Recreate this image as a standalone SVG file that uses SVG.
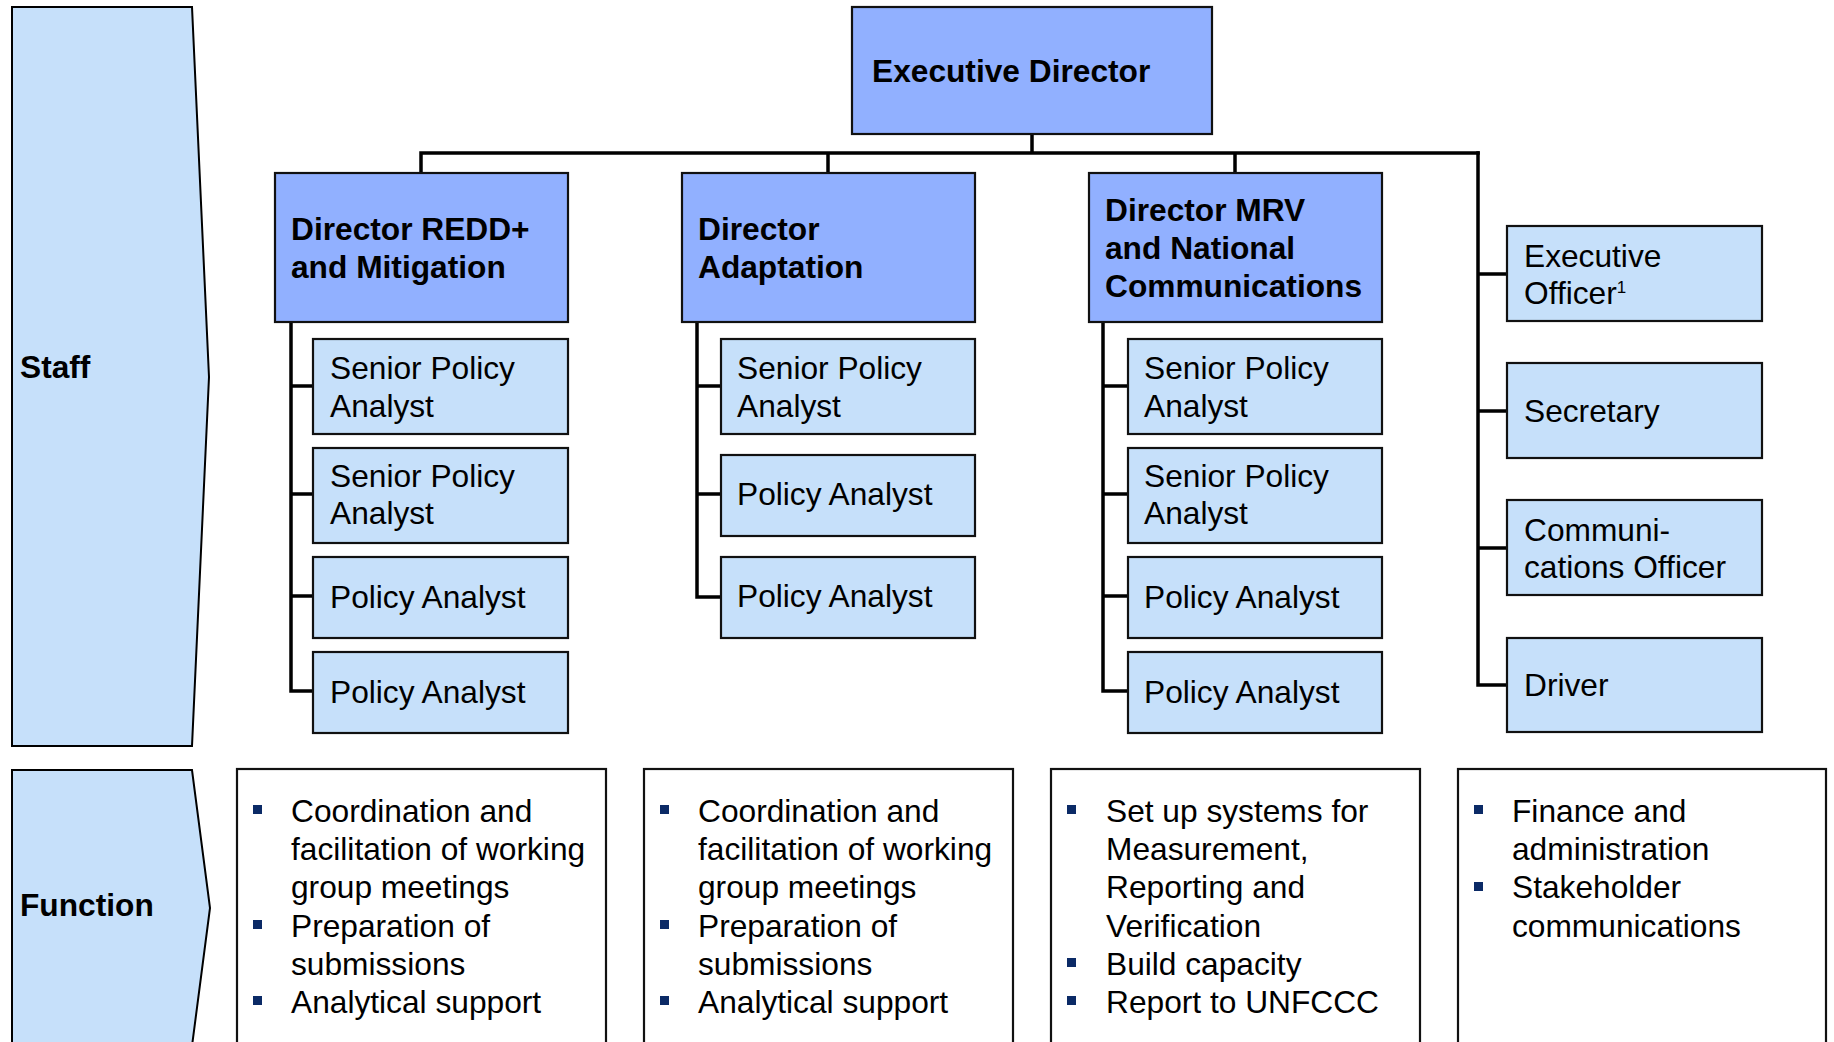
<svg xmlns="http://www.w3.org/2000/svg" width="1834" height="1042" viewBox="0 0 1834 1042">
<style>
.band{fill:#c6e0fa;stroke:#000;stroke-width:2}
.dir{fill:#91b0ff;stroke:#111;stroke-width:2.2}
.staff{fill:#c6e0fa;stroke:#111;stroke-width:2.2}
.fn{fill:#fff;stroke:#111;stroke-width:2.2}
.conn{fill:none;stroke:#000;stroke-width:3.5;stroke-linecap:square}
text{font-family:"Liberation Sans",Arial,sans-serif;font-size:31.7px;fill:#000}
.b{font-weight:bold}
.bul{fill:#0b2a66}
</style>
<rect width="1834" height="1042" fill="#fff"/>

<g id="band-staff">
<polygon class="band" points="12,7 192,7 209,377 192,746 12,746"/>
<text class="b" x="20" y="378">Staff</text>
</g>
<g id="band-function">
<polygon class="band" points="12,770 192,770 210,908 192,1046 12,1046"/>
<text class="b" x="20" y="916">Function</text>
</g>

<g id="connectors">
<path class="conn" d="M1032,134V153M421,153H1478M421,153V173M828,153V173M1235,153V173"/>
<path class="conn" d="M291,322V691M291,386H313M291,494H313M291,596H313M291,691H313"/>
<path class="conn" d="M697,322V597M697,386H721M697,494H721M697,597H721"/>
<path class="conn" d="M1103,322V691M1103,386H1128M1103,494H1128M1103,596H1128M1103,691H1128"/>
<path class="conn" d="M1478,153V685M1478,274H1507M1478,411H1507M1478,548H1507M1478,685H1507"/>
</g>

<g id="exec-director">
<rect class="dir" x="852" y="7" width="360" height="127"/>
<text class="b" x="872" y="82">Executive Director</text>
</g>

<g id="dir-redd">
<rect class="dir" x="275" y="173" width="293" height="149"/>
<text class="b" x="291" y="240">Director REDD+</text>
<text class="b" x="291" y="278">and Mitigation</text>
</g>
<g id="dir-adaptation">
<rect class="dir" x="682" y="173" width="293" height="149"/>
<text class="b" x="698" y="240">Director</text>
<text class="b" x="698" y="278">Adaptation</text>
</g>
<g id="dir-mrv">
<rect class="dir" x="1089" y="173" width="293" height="149"/>
<text class="b" x="1105" y="221">Director MRV</text>
<text class="b" x="1105" y="259">and National</text>
<text class="b" x="1105" y="297">Communications</text>
</g>

<g id="redd-spa1"><rect class="staff" x="313" y="339" width="255" height="95"/><text x="330" y="379">Senior Policy</text><text x="330" y="417">Analyst</text></g>
<g id="redd-spa2"><rect class="staff" x="313" y="448" width="255" height="95"/><text x="330" y="487">Senior Policy</text><text x="330" y="524">Analyst</text></g>
<g id="redd-pa1"><rect class="staff" x="313" y="557" width="255" height="81"/><text x="330" y="608">Policy Analyst</text></g>
<g id="redd-pa2"><rect class="staff" x="313" y="652" width="255" height="81"/><text x="330" y="703">Policy Analyst</text></g>

<g id="adapt-spa1"><rect class="staff" x="721" y="339" width="254" height="95"/><text x="737" y="379">Senior Policy</text><text x="737" y="417">Analyst</text></g>
<g id="adapt-pa1"><rect class="staff" x="721" y="455" width="254" height="81"/><text x="737" y="505">Policy Analyst</text></g>
<g id="adapt-pa2"><rect class="staff" x="721" y="557" width="254" height="81"/><text x="737" y="607">Policy Analyst</text></g>

<g id="mrv-spa1"><rect class="staff" x="1128" y="339" width="254" height="95"/><text x="1144" y="379">Senior Policy</text><text x="1144" y="417">Analyst</text></g>
<g id="mrv-spa2"><rect class="staff" x="1128" y="448" width="254" height="95"/><text x="1144" y="487">Senior Policy</text><text x="1144" y="524">Analyst</text></g>
<g id="mrv-pa1"><rect class="staff" x="1128" y="557" width="254" height="81"/><text x="1144" y="608">Policy Analyst</text></g>
<g id="mrv-pa2"><rect class="staff" x="1128" y="652" width="254" height="81"/><text x="1144" y="703">Policy Analyst</text></g>

<g id="exec-officer"><rect class="staff" x="1507" y="226" width="255" height="95"/><text x="1524" y="267">Executive</text><text x="1524" y="304">Officer<tspan font-size="17" dy="-11">1</tspan></text></g>
<g id="secretary"><rect class="staff" x="1507" y="363" width="255" height="95"/><text x="1524" y="422">Secretary</text></g>
<g id="comms-officer"><rect class="staff" x="1507" y="500" width="255" height="95"/><text x="1524" y="541">Communi-</text><text x="1524" y="578">cations Officer</text></g>
<g id="driver"><rect class="staff" x="1507" y="638" width="255" height="94"/><text x="1524" y="696">Driver</text></g>

<g id="fn-redd">
<rect class="fn" x="237" y="769" width="369" height="285"/>
<rect class="bul" x="253" y="805" width="9" height="9"/>
<rect class="bul" x="253" y="920" width="9" height="9"/>
<rect class="bul" x="253" y="996" width="9" height="9"/>
<text x="291" y="822">Coordination and</text>
<text x="291" y="860">facilitation of working</text>
<text x="291" y="898">group meetings</text>
<text x="291" y="937">Preparation of</text>
<text x="291" y="975">submissions</text>
<text x="291" y="1013">Analytical support</text>
</g>
<g id="fn-adaptation">
<rect class="fn" x="644" y="769" width="369" height="285"/>
<rect class="bul" x="660" y="805" width="9" height="9"/>
<rect class="bul" x="660" y="920" width="9" height="9"/>
<rect class="bul" x="660" y="996" width="9" height="9"/>
<text x="698" y="822">Coordination and</text>
<text x="698" y="860">facilitation of working</text>
<text x="698" y="898">group meetings</text>
<text x="698" y="937">Preparation of</text>
<text x="698" y="975">submissions</text>
<text x="698" y="1013">Analytical support</text>
</g>
<g id="fn-mrv">
<rect class="fn" x="1051" y="769" width="369" height="285"/>
<rect class="bul" x="1067" y="805" width="9" height="9"/>
<rect class="bul" x="1067" y="958" width="9" height="9"/>
<rect class="bul" x="1067" y="996" width="9" height="9"/>
<text x="1106" y="822">Set up systems for</text>
<text x="1106" y="860">Measurement,</text>
<text x="1106" y="898">Reporting and</text>
<text x="1106" y="937">Verification</text>
<text x="1106" y="975">Build capacity</text>
<text x="1106" y="1013">Report to UNFCCC</text>
</g>
<g id="fn-support">
<rect class="fn" x="1458" y="769" width="368" height="285"/>
<rect class="bul" x="1474" y="805" width="9" height="9"/>
<rect class="bul" x="1474" y="882" width="9" height="9"/>
<text x="1512" y="822">Finance and</text>
<text x="1512" y="860">administration</text>
<text x="1512" y="898">Stakeholder</text>
<text x="1512" y="937">communications</text>
</g>
</svg>
